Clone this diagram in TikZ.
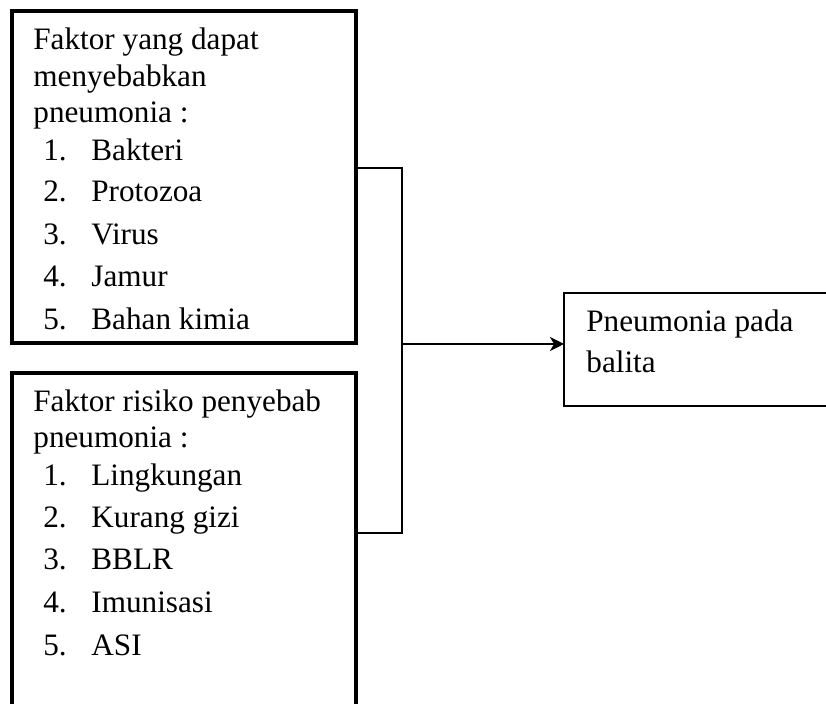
\documentclass[tikz,border=0pt]{standalone}
\usepackage{fontspec}
\setmainfont{Liberation Serif}
\usetikzlibrary{arrows.meta}
\begin{document}
\begin{tikzpicture}[x=0.5pt,y=-0.5pt,
  box/.style={draw=black,fill=none,inner sep=0pt,outer sep=0pt},
  txt/.style={anchor=base west,inner sep=0pt,font=\fontsize{15.6}{18}\selectfont},
  conn/.style={draw=black,line width=1pt}]
\useasboundingbox (0,0) rectangle (826,704);
\clip (0,0) rectangle (826,704);
% boxes
\node[box,line width=1.75pt,minimum width=172pt,minimum height=166pt,anchor=north west] (b1) at (12,11) {};
\node[box,line width=2pt,minimum width=172pt,minimum height=180pt,anchor=north west] (b2) at (12,373) {};
\node[box,line width=1.25pt,minimum width=140pt,minimum height=56.5pt,anchor=north west] (b3) at (564,293) {};
% texts box 1
\node[txt] (h1) at (33,50) {Faktor yang dapat};
\node[txt] (h2) at (33,87) {menyebabkan};
\node[txt] (h3) at (33,123) {pneumonia :};
\foreach \n/\y/\t in {1/161/Bakteri,2/202/Protozoa,3/245/Virus,4/287/Jamur,5/330/Bahan kimia}{
  \node[txt] (an\n) at (43,\y) {\n.};
  \node[txt] (a\n) at (91,\y) {\t};
}
% texts box 2
\node[txt] (k1) at (33,412) {Faktor risiko penyebab};
\node[txt] (k2) at (33,448) {pneumonia :};
\foreach \n/\y/\t in {1/486/Lingkungan,2/528/Kurang gizi,3/570/BBLR,4/613/Imunisasi,5/656/ASI}{
  \node[txt] (bn\n) at (43,\y) {\n.};
  \node[txt] (bb\n) at (91,\y) {\t};
}
% text box 3
\node[txt] (p1) at (586,332) {Pneumonia pada};
\node[txt] (p2) at (586,373) {balita};
% connectors
\coordinate (j1) at (402,168);
\coordinate (j2) at (402,533);
\coordinate (jm) at (402,344);
\draw[conn] (b1.east |- j1) -- (j1) -- (j2) -- (b2.east |- j2);
\draw[conn,-{Stealth[length=7pt,width=7pt,inset=2pt]}] (jm) -- (b3.west |- jm);
\end{tikzpicture}
\end{document}
